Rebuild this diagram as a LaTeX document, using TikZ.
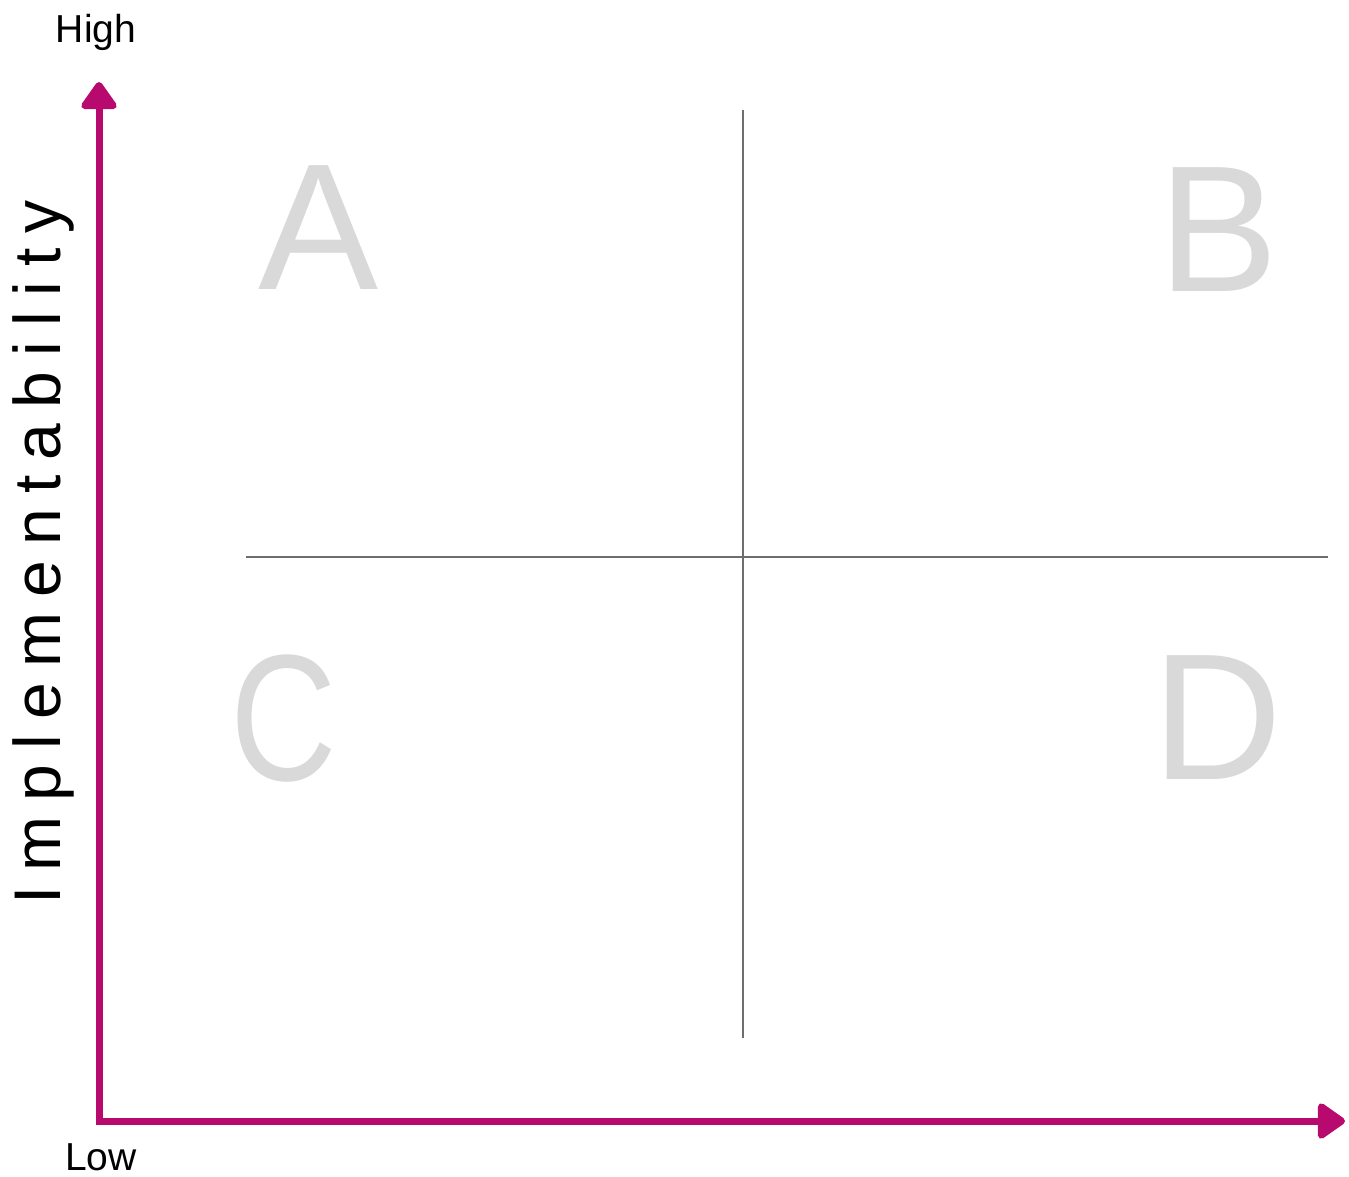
\documentclass[tikz,border=0pt]{standalone}
\usepackage{fontspec}
\setmainfont{Liberation Sans}
\newfontfamily\spacedfont[LetterSpace=23]{Liberation Sans}
\usetikzlibrary{arrows.meta}
\definecolor{axiscol}{RGB}{184,10,110}
\definecolor{gridcol}{RGB}{110,110,110}
\definecolor{lettercol}{RGB}{217,217,217}
\begin{document}
\begin{tikzpicture}[x=1pt,y=-1pt,
  axis/.style={draw=axiscol, line width=7pt, line join=miter,
    {Triangle[length=30pt,width=40pt,round]}-{Triangle[length=30pt,width=40pt,round]}},
  grid/.style={draw=gridcol, line width=1.6pt},
  quad/.style={text=lettercol, inner sep=0pt, anchor=base, font=\fontsize{180}{180}\selectfont},
  endlabel/.style={inner sep=0pt, font=\fontsize{39}{39}\selectfont}]
\useasboundingbox[fill=white] (0,0) rectangle (1349,1176);
\coordinate (top) at (99,82);
\coordinate (origin) at (99,1121);
\coordinate (right) at (1345,1121);
\draw[axis] (top) -- (origin) -- (right);
\coordinate (vtop) at (743,110);
\coordinate (vbot) at (743,1038);
\coordinate (hleft) at (246,557);
\coordinate (hright) at (1328,557);
\draw[grid] (vtop) -- (vbot);
\draw[grid] (hleft) -- (hright);
\node[quad] (A) at (319,289) {A};
\node[quad] (B) at (1219,291) {B};
\node[quad, xscale=0.82] (C) at (284,780) {C};
\node[quad] (D) at (1217,779) {D};
\node[endlabel, anchor=base] (high) at (96,42) {High};
\node[endlabel, anchor=base west] (low) at (65,1170) {Low};
\node[inner sep=0pt, anchor=base west, rotate=90, font=\spacedfont\fontsize{66}{66}\selectfont] (ylabel) at (60,905) {Implementability};
\end{tikzpicture}
\end{document}
